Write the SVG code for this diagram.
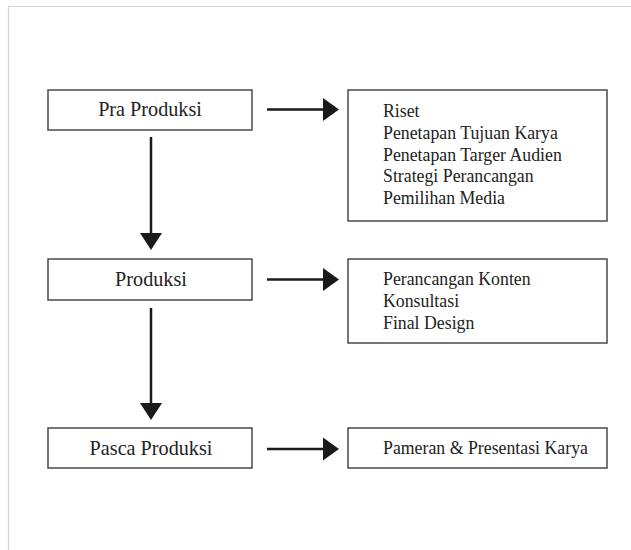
<svg xmlns="http://www.w3.org/2000/svg" width="631" height="550" viewBox="0 0 631 550">
<style>
.box{fill:#fff;stroke:#4a4a4a;stroke-width:1.5}
.lbl{font-family:"Liberation Serif","Times New Roman",serif;font-size:20.2px;fill:#222}
.item{font-family:"Liberation Serif","Times New Roman",serif;font-size:17.8px;fill:#222}
.ln{stroke:#1a1a1a;stroke-width:2.5;fill:none}
.hd{fill:#1a1a1a}
</style>
<rect x="0" y="0" width="631" height="550" fill="#fff"/>
<path d="M8.5 550 V6.5 H631" fill="none" stroke="#d4d4d4" stroke-width="1.2"/>
<g id="pra-produksi"><rect class="box" x="48" y="90" width="204" height="40"/><text class="lbl" x="150" y="115.5" text-anchor="middle">Pra Produksi</text></g>
<g id="pra-detail"><rect class="box" x="348" y="90" width="259" height="131"/>
<text class="item" x="383"><tspan x="383" y="117">Riset</tspan><tspan x="383" y="139">Penetapan Tujuan Karya</tspan><tspan x="383" y="160.5">Penetapan Targer Audien</tspan><tspan x="383" y="182">Strategi Perancangan</tspan><tspan x="383" y="204">Pemilihan Media</tspan></text></g>
<g id="produksi"><rect class="box" x="48" y="259" width="204" height="41"/><text class="lbl" x="151" y="285.5" text-anchor="middle">Produksi</text></g>
<g id="produksi-detail"><rect class="box" x="348" y="259" width="259" height="84"/>
<text class="item"><tspan x="383" y="285">Perancangan Konten</tspan><tspan x="383" y="307">Konsultasi</tspan><tspan x="383" y="328.5">Final Design</tspan></text></g>
<g id="pasca-produksi"><rect class="box" x="48" y="428" width="204" height="40"/><text class="lbl" x="151" y="454.5" text-anchor="middle">Pasca Produksi</text></g>
<g id="pasca-detail"><rect class="box" x="348" y="428" width="259" height="40"/><text class="item" x="383" y="454">Pameran &amp; Presentasi Karya</text></g>
<g id="connectors">
<line class="ln" x1="267" y1="109.5" x2="324" y2="109.5"/><polygon class="hd" points="323,98 339,109.5 323,121"/>
<line class="ln" x1="267" y1="279.5" x2="324" y2="279.5"/><polygon class="hd" points="323,268 339,279.5 323,291"/>
<line class="ln" x1="267" y1="449" x2="324" y2="449"/><polygon class="hd" points="323,437.5 339,449 323,460.5"/>
<line class="ln" x1="151" y1="137" x2="151" y2="234"/><polygon class="hd" points="140,233 162,233 151,250"/>
<line class="ln" x1="151" y1="308" x2="151" y2="404"/><polygon class="hd" points="140,403 162,403 151,420"/>
</g>
</svg>
